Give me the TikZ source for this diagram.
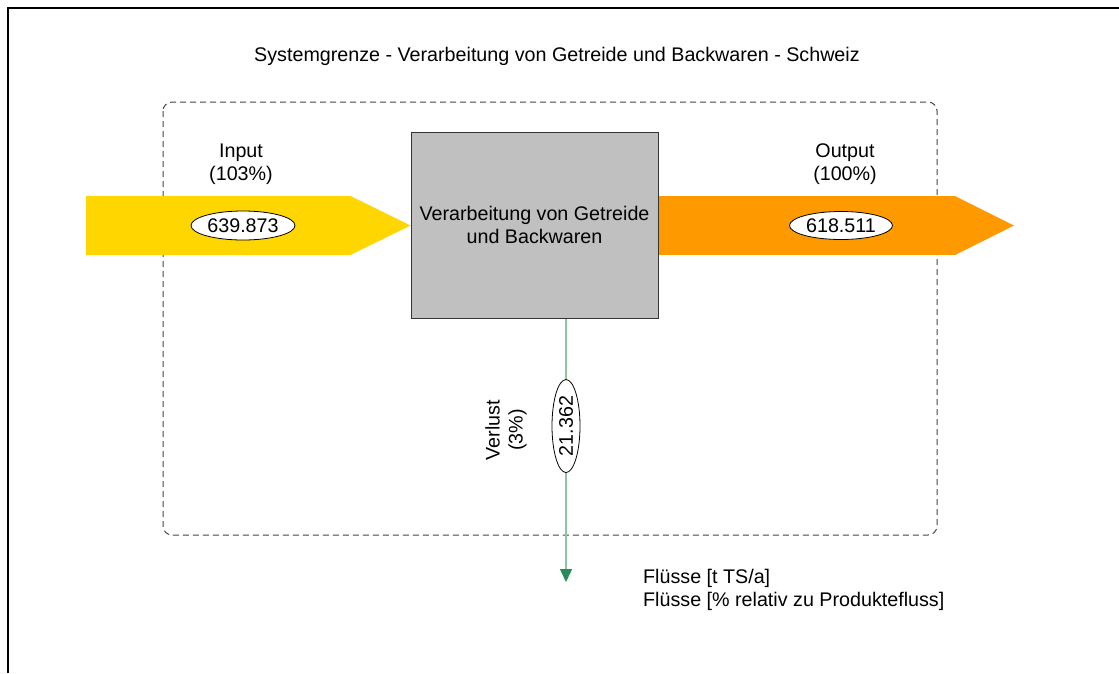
\documentclass[tikz,border=0pt]{standalone}
\usepackage{fontspec}
\setmainfont{Liberation Sans}
\usetikzlibrary{arrows.meta,shapes.geometric}
\definecolor{inyellow}{RGB}{255,214,0}
\definecolor{outorange}{RGB}{255,153,0}
\definecolor{procgrey}{RGB}{192,192,192}
\definecolor{losslight}{RGB}{140,196,164}
\definecolor{lossdark}{RGB}{40,140,90}
\definecolor{bordergrey}{RGB}{70,70,70}
\tikzset{
  txt/.style={font=\fontsize{19.7}{23}\selectfont, inner sep=0pt, align=center},
  procbox/.style={draw=black!80, line width=1pt, fill=procgrey, minimum width=247pt, minimum height=186pt, inner sep=0pt, align=center, font=\fontsize{19.7}{23.5}\selectfont},
  valell/.style={ellipse, draw=black, line width=0.8pt, fill=white, inner sep=0pt, minimum width=104pt, minimum height=29pt, font=\fontsize{19.7}{23}\selectfont},
  inflow/.style={draw=inyellow, line width=59pt, -{Triangle[length=60pt,width=59pt,line width=0pt,color=inyellow]}},
  outflow/.style={draw=outorange, line width=59pt, -{Triangle[length=59pt,width=59pt,line width=0pt,color=outorange]}},
  lossflow/.style={draw=losslight, line width=1.5pt, -{Triangle[length=13pt,width=12pt,color=lossdark]}},
  sysbound/.style={draw=bordergrey, line width=1pt, dash pattern=on 6pt off 4pt, rounded corners=9pt},
  frameline/.style={draw=black, line width=1.6pt}
}
\begin{document}
\begin{tikzpicture}[x=1pt,y=-1pt]
\useasboundingbox (0,0) rectangle (1119,673);
\fill[white] (0,0) rectangle (1119,673);
% outer frame
\draw[frameline] (8,673) -- (8,8) -- (1119,8);
% title
\node[txt] (title) at (557,56) {Systemgrenze - Verarbeitung von Getreide und Backwaren - Schweiz};
% system boundary
\draw[sysbound] (163,102) rectangle (937,535);
% process
\node[procbox] (proc) at (534.5,225) {Verarbeitung von Getreide\\und Backwaren};
% input flow
\coordinate (inS) at (86,225.5);
\draw[inflow] (inS) -- (proc.west |- inS);
\node[valell] (inval) at (243,225.5) {639.873};
\node[txt] (inlab) at (241,164.5) {Input\\(103\%)};
% output flow
\coordinate (outE) at (1014,225.5);
\draw[outflow] (proc.east |- outE) -- (outE);
\node[valell, minimum width=103pt, minimum height=28pt] (outval) at (841,225.5) {618.511};
\node[txt] (outlab) at (845,164.5) {Output\\(100\%)};
% loss flow
\coordinate (lossE) at (566,582);
\draw[lossflow] (proc.south -| lossE) -- (lossE);
\node[valell, rotate=90, minimum width=93pt, minimum height=28pt] (lossval) at (566,426) {21.362};
\node[txt, rotate=90] (losslab) at (506,430) {Verlust\\(3\%)};
% legend
\node[txt, align=left, anchor=north west] (legend) at (643,569.5) {Flüsse [t TS/a]\\Flüsse [\% relativ zu Produktefluss]};
\end{tikzpicture}
\end{document}
